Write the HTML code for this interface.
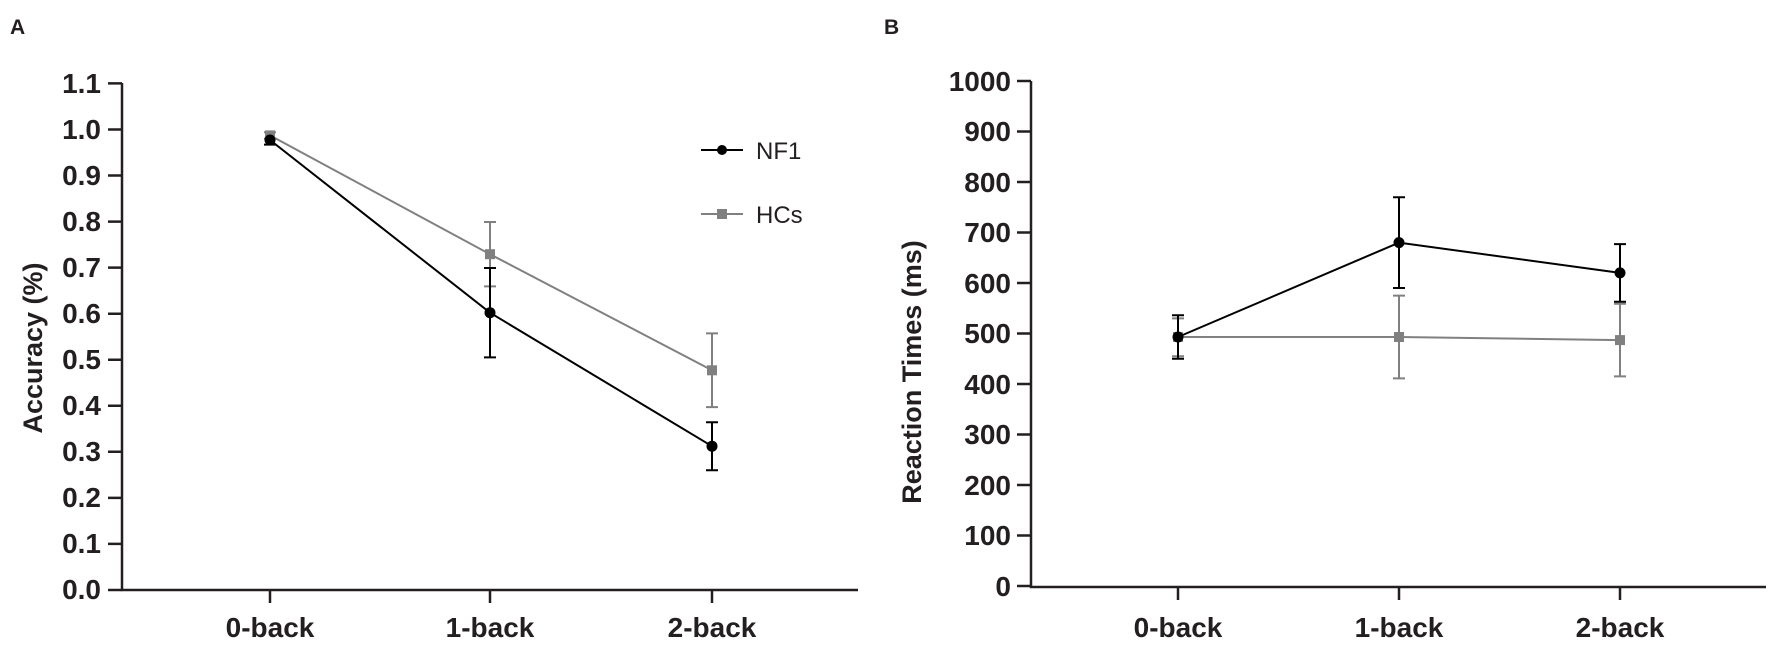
<!DOCTYPE html>
<html><head><meta charset="utf-8"><style>
html,body{margin:0;padding:0;background:#fff;}
svg text{font-family:"Liberation Sans",Arial,sans-serif;font-weight:bold;fill:#231f20;}
</style></head><body>
<svg width="1772" height="648" viewBox="0 0 1772 648" xmlns="http://www.w3.org/2000/svg">
<text x="10" y="34" font-size="21">A</text>
<text x="884" y="34" font-size="21">B</text>
<!-- Panel A axes -->
<g stroke="#231f20" stroke-width="2.5" fill="none">
<path d="M122,83 V590 H858"/>
<path d="M108,83.4H122M108,129.5H122M108,175.5H122M108,221.6H122M108,267.6H122M108,313.7H122M108,359.7H122M108,405.8H122M108,451.8H122M108,497.9H122M108,543.9H122M108,590H122"/>
<path d="M270,590V603M490,590V603M712,590V603"/>
</g>
<g font-size="28" text-anchor="end">
<text x="101" y="93">1.1</text><text x="101" y="139">1.0</text><text x="101" y="185">0.9</text><text x="101" y="231">0.8</text><text x="101" y="277">0.7</text><text x="101" y="323">0.6</text><text x="101" y="369">0.5</text><text x="101" y="415">0.4</text><text x="101" y="461">0.3</text><text x="101" y="507">0.2</text><text x="101" y="553">0.1</text><text x="101" y="599">0.0</text>
</g>
<g font-size="28" text-anchor="middle">
<text x="270" y="637">0-back</text><text x="490" y="637">1-back</text><text x="712" y="637">2-back</text>
</g>
<text transform="translate(42,348) rotate(-90)" font-size="27" text-anchor="middle">Accuracy (%)</text>
<!-- HCs A -->
<g stroke="#808080" stroke-width="2" fill="none">
<polyline points="270,135.4 490,254.2 712,370.3"/>
<path d="M270,138.6V132.2M264,132.2H276M264,138.6H276"/>
<path d="M490,286.4V222M484,222H496M484,286.4H496"/>
<path d="M712,407.1V333.4M706,333.4H718M706,407.1H718"/>
</g>
<g fill="#808080"><rect x="265" y="130.4" width="10" height="10"/><rect x="485" y="249.2" width="10" height="10"/><rect x="707" y="365.3" width="10" height="10"/></g>
<!-- NF1 A -->
<g stroke="#000" stroke-width="2" fill="none">
<polyline points="270,140 490,312.7 712,446.2"/>
<path d="M270,144.6V135.4M264,144.6H276"/>
<path d="M490,357.4V268M484,268H496M484,357.4H496"/>
<path d="M712,470.2V422.3M706,422.3H718M706,470.2H718"/>
</g>
<g fill="#000"><circle cx="270" cy="140" r="5.5"/><circle cx="490" cy="312.7" r="5.5"/><circle cx="712" cy="446.2" r="5.5"/></g>
<!-- Legend -->
<line x1="701" y1="150" x2="743" y2="150" stroke="#000" stroke-width="2"/><circle cx="722" cy="150" r="5"/>
<text x="756" y="159" font-size="24" style="font-weight:normal">NF1</text>
<line x1="701" y1="214" x2="743" y2="214" stroke="#808080" stroke-width="2"/><rect x="717" y="209" width="10" height="10" fill="#808080"/>
<text x="756" y="223" font-size="24" style="font-weight:normal">HCs</text>
<!-- Panel B axes -->
<g stroke="#231f20" stroke-width="2.5" fill="none">
<path d="M1031,81 V587 H1766"/>
<path d="M1017,81H1031M1017,131.5H1031M1017,182H1031M1017,232.5H1031M1017,283H1031M1017,333.5H1031M1017,384H1031M1017,434.5H1031M1017,485H1031M1017,535.5H1031M1017,586H1031"/>
<path d="M1178,587V600M1399,587V600M1620,587V600"/>
</g>
<g font-size="28" text-anchor="end">
<text x="1011" y="91">1000</text><text x="1011" y="141">900</text><text x="1011" y="192">800</text><text x="1011" y="242">700</text><text x="1011" y="293">600</text><text x="1011" y="343">500</text><text x="1011" y="394">400</text><text x="1011" y="444">300</text><text x="1011" y="495">200</text><text x="1011" y="545">100</text><text x="1011" y="596">0</text>
</g>
<g font-size="28" text-anchor="middle">
<text x="1178" y="637">0-back</text><text x="1399" y="637">1-back</text><text x="1620" y="637">2-back</text>
</g>
<text transform="translate(921,372) rotate(-90)" font-size="27" text-anchor="middle">Reaction Times (ms)</text>
<!-- HCs B -->
<g stroke="#808080" stroke-width="2" fill="none">
<polyline points="1178,337 1399,337 1620,340.1"/>
<path d="M1178,356.2V318.4M1172,318.4H1184M1172,356.2H1184"/>
<path d="M1399,378.4V295.6M1393,295.6H1405M1393,378.4H1405"/>
<path d="M1620,376.4V303.7M1614,303.7H1626M1614,376.4H1626"/>
</g>
<g fill="#808080"><rect x="1173" y="332" width="10" height="10"/><rect x="1394" y="332" width="10" height="10"/><rect x="1615" y="335.1" width="10" height="10"/></g>
<!-- NF1 B -->
<g stroke="#000" stroke-width="2" fill="none">
<polyline points="1178,337 1399,242.6 1620,272.9"/>
<path d="M1178,358.8V315.3M1172,315.3H1184M1172,358.8H1184"/>
<path d="M1399,288V197.2M1393,197.2H1405M1393,288H1405"/>
<path d="M1620,301.7V244.1M1614,244.1H1626M1614,301.7H1626"/>
</g>
<g fill="#000"><circle cx="1178" cy="337" r="5.5"/><circle cx="1399" cy="242.6" r="5.5"/><circle cx="1620" cy="272.9" r="5.5"/></g>
</svg>
</body></html>
